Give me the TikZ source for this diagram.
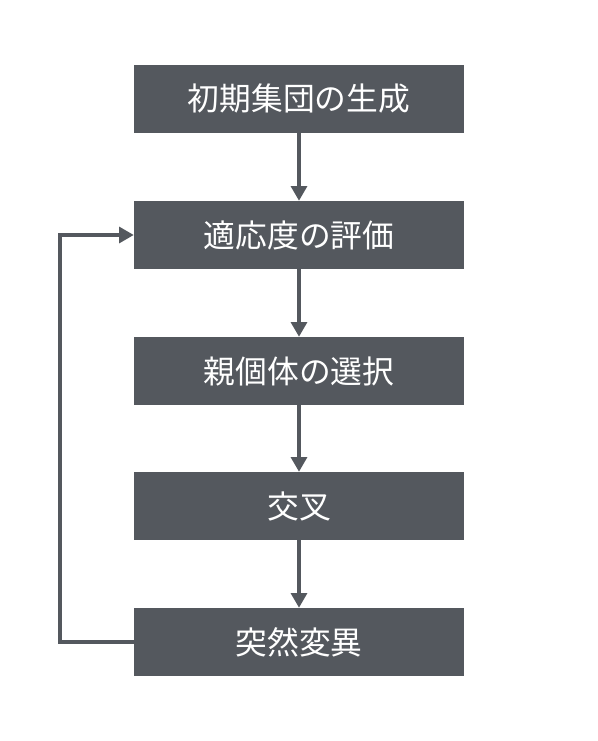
\documentclass[tikz,border=0pt]{standalone}
\usepackage{fontspec}
\setmainfont{Noto Sans CJK JP}
\usetikzlibrary{arrows.meta}
\definecolor{boxgray}{HTML}{54585E}
\begin{document}
\begin{tikzpicture}[x=0.75pt,y=-0.75pt,
  stepbox/.style={draw=none,fill=boxgray,minimum width=330*0.75pt,minimum height=68*0.75pt,inner sep=0pt,text=white,font=\fontsize{23.8}{28}\selectfont},
  flow/.style={draw=boxgray,line width=2.4pt,-{Triangle[length=11pt,width=12pt]}}]
\useasboundingbox (0,0) rectangle (598,741);
\node[stepbox] (s1) at (299,99) {初期集団の生成};
\node[stepbox] (s2) at (299,235) {適応度の評価};
\node[stepbox] (s3) at (299,371) {親個体の選択};
\node[stepbox] (s4) at (299,506) {交叉};
\node[stepbox] (s5) at (299,642) {突然変異};
\coordinate (lb) at (60,642);
\coordinate (lt) at (60,235);
\draw[flow] (s1) -- (s2);
\draw[flow] (s2) -- (s3);
\draw[flow] (s3) -- (s4);
\draw[flow] (s4) -- (s5);
\draw[flow] (s5.west) -- (lb) -- (lt) -- (s2.west);
\end{tikzpicture}
\end{document}
